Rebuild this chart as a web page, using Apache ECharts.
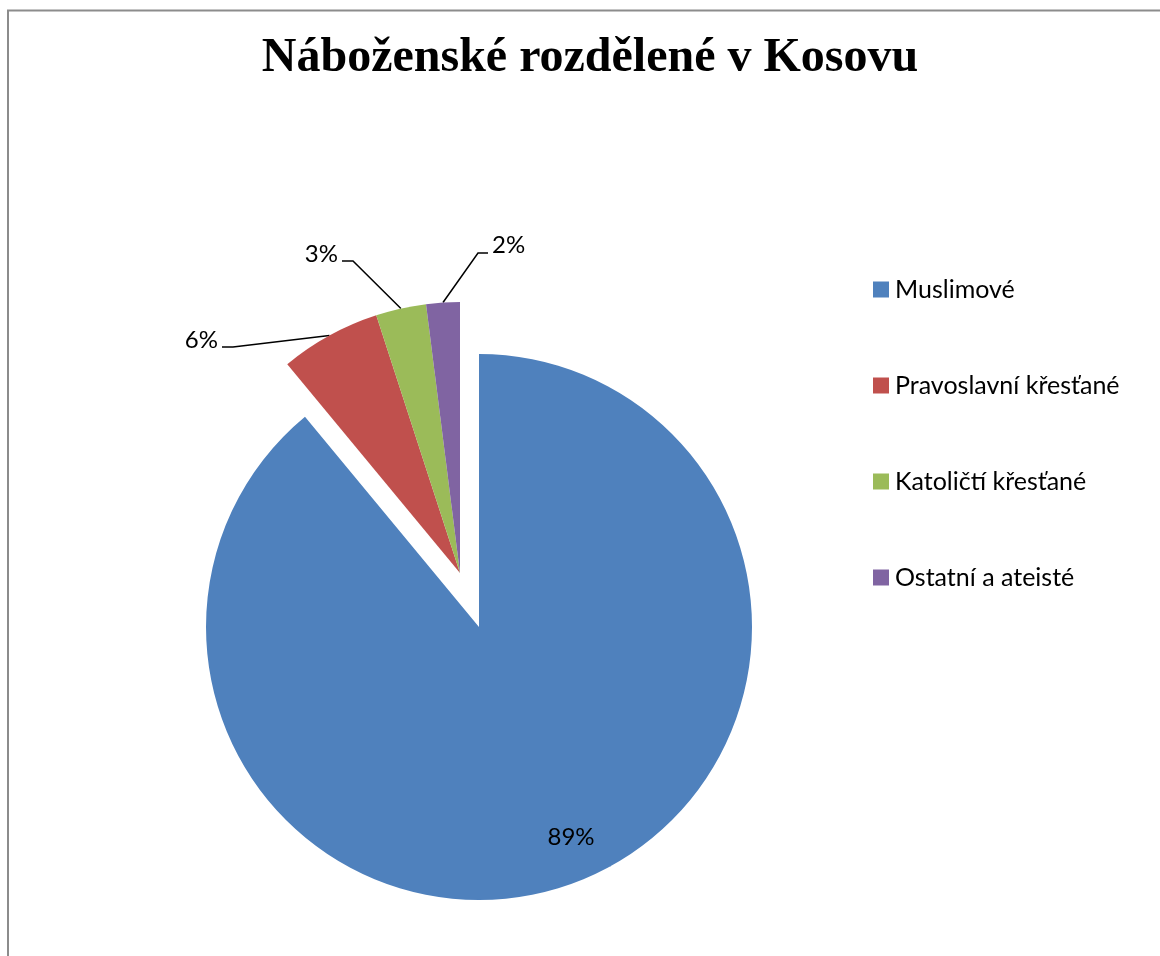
<!DOCTYPE html>
<html>
<head>
<meta charset="utf-8">
<script src="https://cdn.jsdelivr.net/npm/echarts@6/dist/echarts.min.js"></script>
<style>
  html, body { margin: 0; padding: 0; background: #ffffff; }
  #pie { width: 1160px; height: 956px; }
</style>
</head>
<body>
<div id="pie"></div>
<script>
(function(){

    var title = 'Náboženské rozdělené v Kosovu';
    var categories = ['Muslimové', 'Pravoslavní křesťané', 'Katoličtí křesťané', 'Ostatní a ateisté'];
    var shares = [89, 6, 3, 2];
    var colors = ['#4f81bd', '#c0504d', '#9bbb59', '#8064a2'];

    // label placement, copied by eye from the reference
    var labelPos = [
        { x: 571, y: 837, align: 'center' },
        { x: 218, y: 340, align: 'right', bend: [233, 347], end: [222, 347] },
        { x: 338, y: 254, align: 'right', bend: [353, 261], end: [342, 261] },
        { x: 492, y: 245, align: 'left',  bend: [478, 253], end: [488, 253] }
    ];

    var rest = 0;
    for (var i = 1; i < shares.length; i++) rest += shares[i];

    var hidden = {
        itemStyle : { color : 'transparent' },
        label : { show : false },
        labelLine : { show : false },
        emphasis : { disabled : true }
    };

    var mainData = [
        { name : categories[0], value : shares[0], itemStyle : { color : colors[0] } },
        Object.assign({ name : '', value : rest }, hidden)
    ];

    // the three small slices are pulled out together as one group
    var smallData = [Object.assign({ name : '', value : shares[0] }, hidden)];
    for (var j = 1; j < categories.length; j++) {
        smallData.push({ name : categories[j], value : shares[j], itemStyle : { color : colors[j] } });
    }

    var labelText = {
        color : '#000000',
        fontFamily : 'Lato',
        fontSize : 24,
        formatter : '{c}%'
    };

    var option = {
        animation : false,
        title : {
            text : title,
            left : 585,
            top : 30,
            textAlign : 'center',
            textStyle : {
                fontFamily : 'Liberation Serif',
                fontWeight : 'bold',
                fontSize : 48,
                color : '#000000'
            }
        },
        legend : {
            orient : 'vertical',
            left : 873,
            top : 277,
            padding : 0,
            itemWidth : 16,
            itemHeight : 16,
            itemGap : 71,
            icon : 'rect',
            selectedMode : false,
            data : categories,
            textStyle : {
                fontFamily : 'Lato',
                fontSize : 25,
                lineHeight : 24,
                color : '#000000',
                padding : [0, 0, 0, 1]
            }
        },
        graphic : [
            {
                type : 'polyline',
                silent : true,
                shape : { points : [[8, 956], [8, 10.5], [1160, 10.5]] },
                style : { stroke : '#8c8c8c', lineWidth : 2, fill : null }
            }
        ],
        series : [
            {
                type : 'pie',
                silent : true,
                center : [479, 627],
                radius : 273,
                startAngle : 90,
                clockwise : true,
                data : mainData,
                label : Object.assign({ position : 'inside' }, labelText),
                labelLayout : function(p) {
                    var pos = labelPos[0];
                    return { x : pos.x, y : pos.y, align : pos.align, verticalAlign : 'middle' };
                }
            },
            {
                type : 'pie',
                silent : true,
                center : [460, 573],
                radius : 271,
                startAngle : 90,
                clockwise : true,
                data : smallData,
                label : Object.assign({ position : 'outside' }, labelText),
                labelLine : {
                    show : true,
                    length : 20,
                    length2 : 10,
                    lineStyle : { color : '#000000', width : 1.5 }
                },
                labelLayout : function(p) {
                    var pos = labelPos[p.dataIndex];
                    if (!pos || p.dataIndex === 0) return {};
                    var out = { x : pos.x, y : pos.y, align : pos.align, verticalAlign : 'middle' };
                    if (p.labelLinePoints && p.labelLinePoints[0]) {
                        out.labelLinePoints = [p.labelLinePoints[0], pos.bend, pos.end];
                    }
                    return out;
                }
            }
        ]
    };

    var myChart = echarts.init(document.getElementById('pie'));
    myChart.setOption(option);

})()
</script>
</body>
</html>
